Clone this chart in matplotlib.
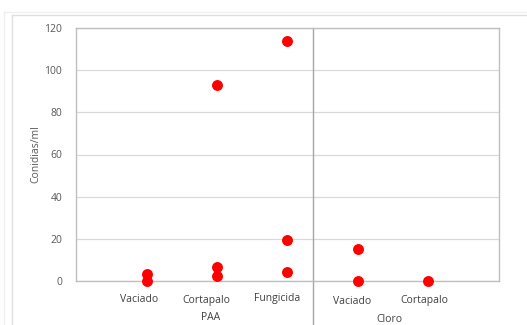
import matplotlib
matplotlib.use("Agg")
import matplotlib.pyplot as plt
from matplotlib.lines import Line2D
import matplotlib.transforms as mtransforms

# Data
x_pos = [1, 1, 2, 2, 2, 3, 3, 3, 4, 4, 5]
values = [3.5, 0.2, 93, 6.5, 2.4, 114, 19.3, 4.4, 15.2, 0.2, 0.2]
sub_labels = ["Vaciado", "Cortapalo", "Fungicida", "Vaciado", "Cortapalo"]
sub_label_x = [0.894, 1.844, 2.851, 3.915, 4.936]
group_labels = ["PAA", "Cloro"]
group_label_x = [1.915, 4.44]
y_ticks = [0, 20, 40, 60, 80, 100, 120]

plt.rcParams['font.family'] = ['Open Sans', 'DejaVu Sans']
fig = plt.figure(figsize=(5.27, 3.25), dpi=100)
W, H = 527, 325
ax = fig.add_axes([76 / W, 1 - 281 / H, (499 - 76) / W, (281 - 28) / H])

ax.set_xlim(0, 6)
ax.set_ylim(0, 120)
ax.set_yticks(y_ticks)
ax.set_xticks([])
ax.tick_params(axis='y', length=0, labelsize=7.5, labelcolor='#595959', pad=10)
ax.grid(axis='y', color='#d9d9d9', linewidth=0.9)
ax.set_axisbelow(True)
for s in ax.spines.values():
    s.set_color('#bfbfbf')
    s.set_linewidth(1.0)

ax.scatter(x_pos, values, s=62, color='#ff0000', zorder=3, linewidths=0, clip_on=False)

ax.set_ylabel("Conidias/ml", fontsize=7.5, color='#595959', labelpad=0)
ax.yaxis.set_label_coords(-35 / 423, 0.5)

# separator line
sep = Line2D([3.36, 3.36], [1, -0.2], transform=mtransforms.blended_transform_factory(ax.transData, ax.transAxes),
             color='#a6a6a6', linewidth=1.0, clip_on=False)
ax.add_line(sep)

trans = mtransforms.blended_transform_factory(ax.transData, fig.transFigure)
sub_y = [300, 300, 298, 302, 300]
for x, lab, yp in zip(sub_label_x, sub_labels, sub_y):
    ax.text(x, 1 - yp / H, lab, transform=trans, ha='center', va='center', fontsize=7.5, color='#404040')
grp_y = [317, 319]
for x, lab, yp in zip(group_label_x, group_labels, grp_y):
    ax.text(x, 1 - yp / H, lab, transform=trans, ha='center', va='center', fontsize=7.5, color='#404040')

# outer chart frame
fig.add_artist(Line2D([12 / W, 12 / W], [0, 1 - 15 / H], transform=fig.transFigure, color='#e0e0e0', linewidth=1.0))
fig.add_artist(Line2D([12 / W, 1], [1 - 15 / H, 1 - 15 / H], transform=fig.transFigure, color='#e0e0e0', linewidth=1.0))
fig.add_artist(Line2D([4 / W, 4 / W], [0, 1 - 12 / H], transform=fig.transFigure, color='#f0f0f0', linewidth=1.0))
fig.add_artist(Line2D([4 / W, 1], [1 - 12 / H, 1 - 12 / H], transform=fig.transFigure, color='#f0f0f0', linewidth=1.0))

fig.savefig("out.png", dpi=100)
